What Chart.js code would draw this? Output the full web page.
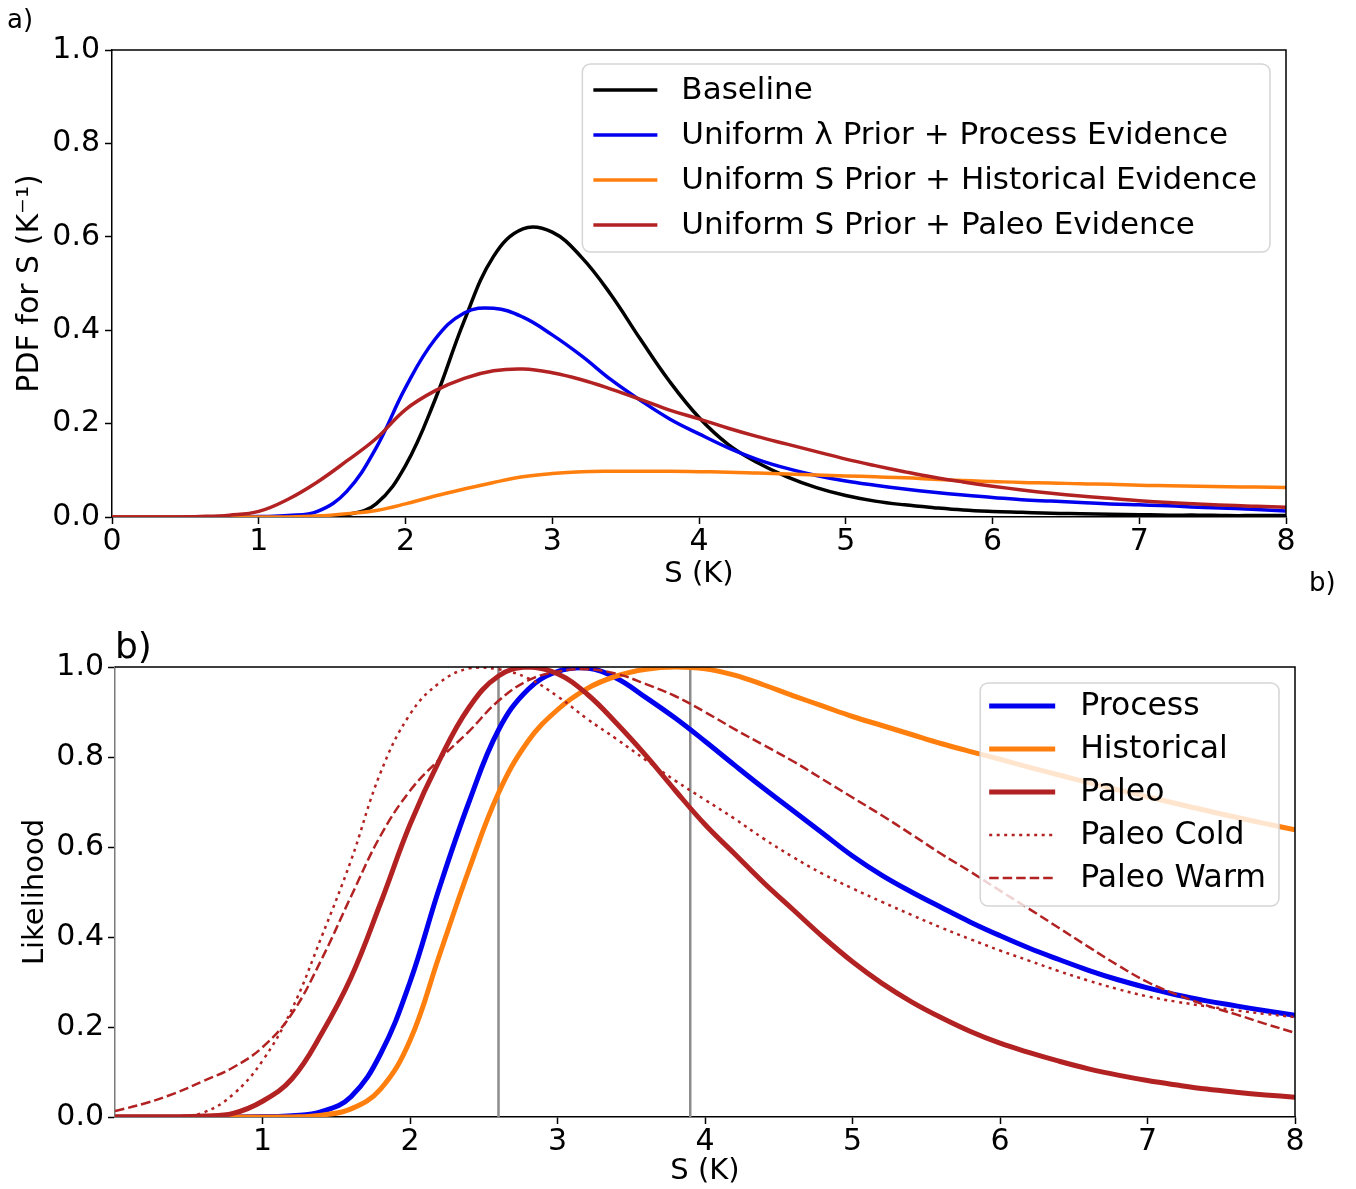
<!DOCTYPE html>
<html>
<head>
<meta charset="utf-8">
<title>Climate sensitivity PDFs and likelihoods</title>
<script src="https://cdn.jsdelivr.net/npm/chart.js@4.4.1/dist/chart.umd.min.js"></script>
<style>
  body { margin: 0; background: #fff; width: 1356px; height: 1189px; position: relative; overflow: hidden; font-family: 'DejaVu Sans', sans-serif; }
  canvas { position: absolute; left: 0; }
  #chartTop { top: 0; }
  #chartBottom { top: 600px; }
  .panel { position: absolute; color: #000; z-index: 5; line-height: 1; }
</style>
</head>
<body>
<canvas id="chartTop" width="1356" height="595"></canvas>
<canvas id="chartBottom" width="1356" height="589"></canvas>
<div class="panel" style="left:7px;top:6px;font-size:26px;">a)</div>
<div class="panel" style="left:1309px;top:569px;font-size:26px;">b)</div>
<div class="panel" style="left:115px;top:628px;font-size:36px;">b)</div>
<script>
(function () {
  // climate sensitivity S (K), shared x grid for every curve
  var sGrid = [0, 0.2, 0.4, 0.6, 0.8, 1.0, 1.2, 1.4, 1.6, 1.8,
    2.0, 2.2, 2.4, 2.6, 2.8, 3.0, 3.2, 3.4, 3.6, 3.8,
    4.0, 4.2, 4.4, 4.6, 4.8, 5.0, 5.2, 5.4, 5.6, 5.8,
    6.0, 6.2, 6.4, 6.6, 6.8, 7.0, 7.2, 7.4, 7.6, 7.8, 8.0];

  // a) posterior PDFs
  var baselinePdf = [0, 0, 0, 0, 0, 0, 0, 0.001, 0.005, 0.028,
    0.11, 0.25, 0.42, 0.558, 0.617, 0.61, 0.556, 0.476, 0.381, 0.29,
    0.213, 0.155, 0.116, 0.086, 0.063, 0.046, 0.034, 0.026, 0.02, 0.015,
    0.012, 0.01, 0.008, 0.007, 0.006, 0.005, 0.004, 0.004, 0.003, 0.003, 0.003];
  var processPdf = [0, 0, 0, 0, 0, 0.001, 0.003, 0.012, 0.055, 0.148,
    0.277, 0.38, 0.437, 0.447, 0.428, 0.39, 0.345, 0.294, 0.25, 0.21,
    0.178, 0.148, 0.123, 0.104, 0.089, 0.077, 0.068, 0.06, 0.053, 0.047,
    0.042, 0.037, 0.034, 0.031, 0.028, 0.026, 0.024, 0.021, 0.019, 0.016, 0.013];
  var historicalPdf = [0, 0, 0, 0, 0, 0, 0, 0.002, 0.007, 0.014,
    0.028, 0.045, 0.06, 0.074, 0.086, 0.093, 0.097, 0.098, 0.098, 0.098,
    0.097, 0.096, 0.094, 0.092, 0.09, 0.088, 0.086, 0.084, 0.081, 0.078,
    0.076, 0.074, 0.073, 0.071, 0.07, 0.068, 0.067, 0.066, 0.065, 0.064, 0.063];
  var paleoPdf = [0, 0, 0, 0.001, 0.004, 0.012, 0.038, 0.075, 0.12, 0.168,
    0.23, 0.27, 0.297, 0.313, 0.317, 0.309, 0.294, 0.274, 0.252, 0.229,
    0.21, 0.19, 0.172, 0.156, 0.14, 0.124, 0.11, 0.097, 0.085, 0.075,
    0.066, 0.058, 0.051, 0.045, 0.04, 0.035, 0.031, 0.028, 0.025, 0.023, 0.021];

  // b) likelihoods
  var processLik = [0, 0, 0, 0, 0, 0.001, 0.003, 0.012, 0.045, 0.14,
    0.3, 0.51, 0.7, 0.86, 0.95, 0.99, 0.998, 0.975, 0.932, 0.886,
    0.835, 0.782, 0.73, 0.68, 0.63, 0.58, 0.537, 0.5, 0.466, 0.433,
    0.403, 0.375, 0.35, 0.326, 0.305, 0.287, 0.271, 0.258, 0.247, 0.236, 0.226];
  var historicalLik = [0, 0, 0, 0, 0, 0, 0, 0.004, 0.018, 0.062,
    0.17, 0.36, 0.55, 0.72, 0.835, 0.905, 0.952, 0.98, 0.995, 1.0,
    0.996, 0.982, 0.96, 0.936, 0.913, 0.89, 0.87, 0.85, 0.83, 0.812,
    0.795, 0.777, 0.76, 0.743, 0.727, 0.712, 0.696, 0.681, 0.666, 0.652, 0.638];
  var paleoLik = [0, 0, 0, 0.002, 0.008, 0.035, 0.085, 0.185, 0.31, 0.475,
    0.65, 0.793, 0.91, 0.98, 1.0, 0.985, 0.94, 0.875, 0.803, 0.725,
    0.65, 0.585, 0.52, 0.46, 0.4, 0.345, 0.297, 0.256, 0.221, 0.19,
    0.164, 0.143, 0.124, 0.107, 0.093, 0.081, 0.071, 0.062, 0.055, 0.049, 0.044];
  var paleoColdLik = [0, 0, 0.001, 0.01, 0.05, 0.125, 0.24, 0.4, 0.57, 0.765,
    0.895, 0.965, 0.997, 0.995, 0.975, 0.935, 0.885, 0.84, 0.793, 0.747,
    0.705, 0.663, 0.618, 0.577, 0.54, 0.508, 0.478, 0.449, 0.421, 0.395,
    0.37, 0.347, 0.324, 0.303, 0.284, 0.268, 0.256, 0.246, 0.237, 0.229, 0.222];
  var paleoWarmLik = [0.013, 0.03, 0.052, 0.08, 0.11, 0.155, 0.23, 0.35, 0.49, 0.625,
    0.725, 0.795, 0.857, 0.925, 0.97, 0.99, 0.995, 0.985, 0.962, 0.935,
    0.9, 0.862, 0.826, 0.79, 0.75, 0.71, 0.67, 0.628, 0.585, 0.545,
    0.503, 0.462, 0.42, 0.378, 0.337, 0.3, 0.272, 0.248, 0.228, 0.207, 0.187];

  // vertical reference lines in b)
  var markerS = [2.6, 3.9];

  var topLabels = ['Baseline', 'Uniform \u03bb Prior + Process Evidence',
    'Uniform S Prior + Historical Evidence', 'Uniform S Prior + Paleo Evidence'];
  var bottomLabels = ['Process', 'Historical', 'Paleo', 'Paleo Cold', 'Paleo Warm'];

  var blue = '#0000ee';
  var orange = '#ff7f0e';
  var red = '#b22222';

  Chart.defaults.font.family = "'DejaVu Sans', sans-serif";
  Chart.defaults.color = '#000';

  function curve(label, values, color, width, dash, order) {
    return {
      label: label,
      data: values.map(function (v, i) { return { x: sGrid[i], y: v }; }),
      borderColor: color,
      borderWidth: width,
      borderDash: dash || [],
      pointRadius: 0,
      fill: false,
      tension: 0.4,
      order: order
    };
  }

  function vline(s) {
    return {
      label: '',
      hideInLegend: true,
      data: [{ x: s, y: 0 }, { x: s, y: 1 }],
      borderColor: '#8c8c8c',
      borderWidth: 2.5,
      pointRadius: 0,
      tension: 0,
      order: 100
    };
  }

  // black frame on the top and right of the plot area
  var framePlugin = {
    id: 'frame',
    afterDraw: function (chart) {
      var a = chart.chartArea;
      var ctx = chart.ctx;
      ctx.save();
      ctx.lineWidth = 1.5;
      ctx.strokeStyle = '#000';
      ctx.beginPath();
      ctx.moveTo(a.left, a.top);
      ctx.lineTo(a.right, a.top);
      ctx.lineTo(a.right, a.bottom);
      ctx.stroke();
      ctx.restore();
    }
  };

  // matplotlib style legend box in the upper right corner
  var boxLegend = {
    id: 'boxLegend',
    afterDatasetsDraw: function (chart, args, o) {
      var ctx = chart.ctx;
      var a = chart.chartArea;
      var items = chart.data.datasets.filter(function (d) { return !d.hideInLegend; });
      ctx.save();
      ctx.font = o.fontSize + "px 'DejaVu Sans', sans-serif";
      var maxW = 0;
      items.forEach(function (d) { maxW = Math.max(maxW, ctx.measureText(d.label).width); });
      var w = o.padLeft + o.handleLen + o.gap + maxW + o.padRight;
      var h = o.padTop + (items.length - 1) * o.rowH + o.padBottom;
      var x = a.right - o.marginRight - w;
      var y = a.top + o.marginTop;
      ctx.beginPath();
      if (ctx.roundRect) ctx.roundRect(x, y, w, h, 8); else ctx.rect(x, y, w, h);
      ctx.fillStyle = 'rgba(255,255,255,0.8)';
      ctx.fill();
      ctx.strokeStyle = '#d5d5d5';
      ctx.lineWidth = 1.5;
      ctx.stroke();
      items.forEach(function (d, i) {
        var cy = y + o.padTop + i * o.rowH;
        ctx.beginPath();
        ctx.setLineDash(d.borderDash || []);
        ctx.strokeStyle = d.borderColor;
        ctx.lineWidth = d.borderWidth;
        ctx.moveTo(x + o.padLeft, cy);
        ctx.lineTo(x + o.padLeft + o.handleLen, cy);
        ctx.stroke();
        ctx.setLineDash([]);
        ctx.fillStyle = '#000';
        ctx.textAlign = 'left';
        ctx.textBaseline = 'middle';
        ctx.fillText(d.label, x + o.padLeft + o.handleLen + o.gap, cy + 1);
      });
      ctx.restore();
    }
  };

  function scales(cfg) {
    return {
      x: {
        type: 'linear',
        min: 0,
        max: 8,
        ticks: { stepSize: 1, padding: 0, maxRotation: 0, autoSkip: false, font: { size: 30 } },
        grid: { drawOnChartArea: false, tickLength: 7, tickColor: '#000', tickWidth: 1.5 },
        border: { color: '#000', width: 1.5 },
        title: { display: true, text: 'S (K)', font: { size: 29 }, padding: 0 },
        afterBuildTicks: function (s) {
          if (cfg.hideZero) s.ticks = s.ticks.filter(function (t) { return t.value !== 0; });
        },
        afterFit: function (s) {
          s.height = cfg.xHeight;
          s.paddingLeft = 0;
          s.paddingRight = 0;
        }
      },
      y: {
        min: 0,
        max: 1,
        ticks: {
          stepSize: 0.2,
          padding: cfg.yTickPad,
          font: { size: 30 },
          callback: function (v) { return Number(v).toFixed(1); }
        },
        grid: { drawOnChartArea: false, tickLength: 7, tickColor: '#000', tickWidth: 1.5 },
        border: { color: cfg.leftColor, width: 1.5 },
        title: { display: true, text: cfg.yTitle, font: { size: cfg.yTitleSize }, padding: { top: cfg.yTitlePad, bottom: 0 } },
        afterFit: function (s) {
          s.width = cfg.yWidth;
          s.paddingTop = 0;
          s.paddingBottom = 0;
        }
      }
    };
  }

  new Chart(document.getElementById('chartTop'), {
    type: 'line',
    data: {
      datasets: [
        curve(topLabels[0], baselinePdf, '#000', 3.5, null, 0),
        curve(topLabels[1], processPdf, blue, 3.5, null, -1),
        curve(topLabels[2], historicalPdf, orange, 3.5, null, -2),
        curve(topLabels[3], paleoPdf, red, 3.5, null, -3)
      ]
    },
    options: {
      responsive: false,
      animation: false,
      events: [],
      layout: { padding: { left: 0, top: 50, right: 70, bottom: 3 } },
      plugins: {
        legend: { display: false },
        tooltip: { enabled: false },
        boxLegend: {
          fontSize: 31, padTop: 26, rowH: 45, padBottom: 27, padLeft: 11,
          handleLen: 64, gap: 24, padRight: 13, marginRight: 16, marginTop: 14
        }
      },
      scales: scales({
        xHeight: 75, yWidth: 112, yTickPad: 5, yTitlePad: 12, yTitleSize: 30,
        yTitle: 'PDF for S (K\u207b\u00b9)', leftColor: '#000', hideZero: false
      })
    },
    plugins: [boxLegend, framePlugin]
  });

  var bottomSets = [
    curve(bottomLabels[0], processLik, blue, 5, null, 0),
    curve(bottomLabels[1], historicalLik, orange, 5, null, -1),
    curve(bottomLabels[2], paleoLik, red, 5, null, -2),
    curve(bottomLabels[3], paleoColdLik, red, 2.5, [3, 4.5], -3),
    curve(bottomLabels[4], paleoWarmLik, red, 2.5, [9.5, 4], -4)
  ];
  markerS.forEach(function (s) { bottomSets.push(vline(s)); });

  new Chart(document.getElementById('chartBottom'), {
    type: 'line',
    data: { datasets: bottomSets },
    options: {
      responsive: false,
      animation: false,
      events: [],
      layout: { padding: { left: 0, top: 67, right: 61, bottom: 0 } },
      plugins: {
        legend: { display: false },
        tooltip: { enabled: false },
        boxLegend: {
          fontSize: 31.5, padTop: 23, rowH: 43, padBottom: 28, padLeft: 9,
          handleLen: 66, gap: 25, padRight: 13, marginRight: 16, marginTop: 16
        }
      },
      scales: scales({
        xHeight: 72, yWidth: 115, yTickPad: 4, yTitlePad: 18, yTitleSize: 29,
        yTitle: 'Likelihood', leftColor: '#7a7a7a', hideZero: true
      })
    },
    plugins: [boxLegend, framePlugin]
  });
})();
</script>
</body>
</html>
